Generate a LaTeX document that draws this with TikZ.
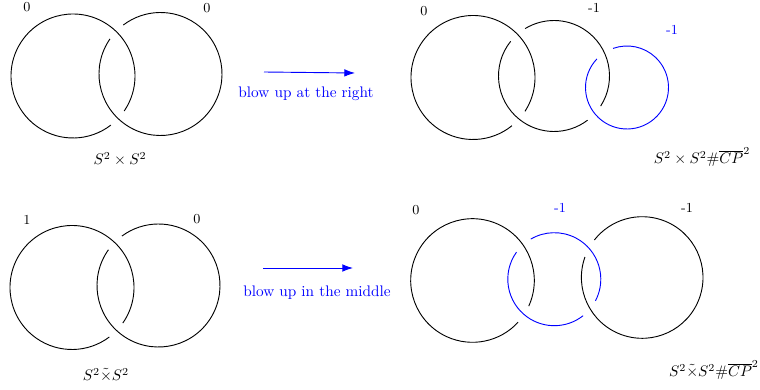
\documentclass[tikz,border=0pt]{standalone}
\usepackage{amsmath}
\usetikzlibrary{arrows.meta}
\tikzset{
  lab/.style={font=\small},
  blab/.style={font=\small, text=blue},
  move/.style={text=blue}
}
\begin{document}
\begin{tikzpicture}[>={Latex[length=7pt,width=5pt]}, x=0.654pt, y=0.654pt, line width=0.6pt]
	\useasboundingbox (0,0) rectangle (760,390);
	% S^2 x S^2
	\coordinate (A1) at (73,314);
	\coordinate (B1) at (160.5,316);
	\draw ([shift={(-34.4:62)}]A1) arc (-34.4:307.6:62);
	\draw ([shift={(145.2:61.5)}]B1) arc (145.2:487.2:61.5);
	\node[lab] (a1) at (27,383) {0};
	\node[lab] (b1) at (207,382) {0};
	\node (m1) at (120,231) {$S^2\times S^2$};
	% blow up at the right
	\coordinate (p1) at (264,318);
	\coordinate (q1) at (355,317);
	\draw[->, blue] (p1) -- (q1);
	\node[move] (t1) at (306,296) {blow up at the right};
	% S^2 x S^2 # CP^2
	\coordinate (A2) at (473,312.5);
	\coordinate (B2) at (554,314);
	\coordinate (C2) at (627,302.5);
	\draw ([shift={(-33.1:62)}]A2) arc (-33.1:308.9:62);
	\draw ([shift={(141.3:55.5)}]B2) arc (141.3:307.2:55.5);
	\draw ([shift={(-32.8:55.5)}]B2) arc (-32.8:121.3:55.5);
	\draw[blue] ([shift={(136.6:41.5)}]C2) arc (136.6:469.6:41.5);
	\node[lab] (a2) at (424,379) {0};
	\node[lab] (b2) at (594,382) {-1};
	\node[blab] (c2) at (672,360) {-1};
	\node (m2) at (702,233) {$S^2\times S^2\#\overline{CP}^2$};
	% S^2 ~x S^2
	\coordinate (A3) at (72,102.5);
	\coordinate (B3) at (158.5,104.5);
	\draw ([shift={(-35:62)}]A3) arc (-35:307:62);
	\draw ([shift={(144.5:61.5)}]B3) arc (144.5:486.5:61.5);
	\node[lab] (a3) at (27,170) {1};
	\node[lab] (b3) at (197,171) {0};
	\node (m3) at (106,15) {$S^2\tilde{\times}S^2$};
	% blow up in the middle
	\coordinate (p2) at (263,122);
	\coordinate (q2) at (353,122);
	\draw[->, blue] (p2) -- (q2);
	\node[move] (t2) at (317,97) {blow up in the middle};
	% S^2 ~x S^2 # CP^2
	\coordinate (A4) at (472.5,109.5);
	\coordinate (C4) at (554.3,110.8);
	\coordinate (B4) at (642.2,112.5);
	\draw ([shift={(-24.5:61.8)}]A4) arc (-24.5:317.5:61.8);
	\draw[blue] ([shift={(144.4:46.5)}]C4) arc (144.4:308.3:46.5);
	\draw[blue] ([shift={(-27.7:46.5)}]C4) arc (-27.7:120.4:46.5);
	\draw ([shift={(160.3:60.8)}]B4) arc (160.3:501.9:60.8);
	\node[lab] (a4) at (416,180) {0};
	\node[blab] (c4) at (560,182) {-1};
	\node[lab] (b4) at (687,182) {-1};
	\node (m4) at (714,20) {$S^2\tilde{\times}S^2\#\overline{CP}^2$};
\end{tikzpicture}
\end{document}
